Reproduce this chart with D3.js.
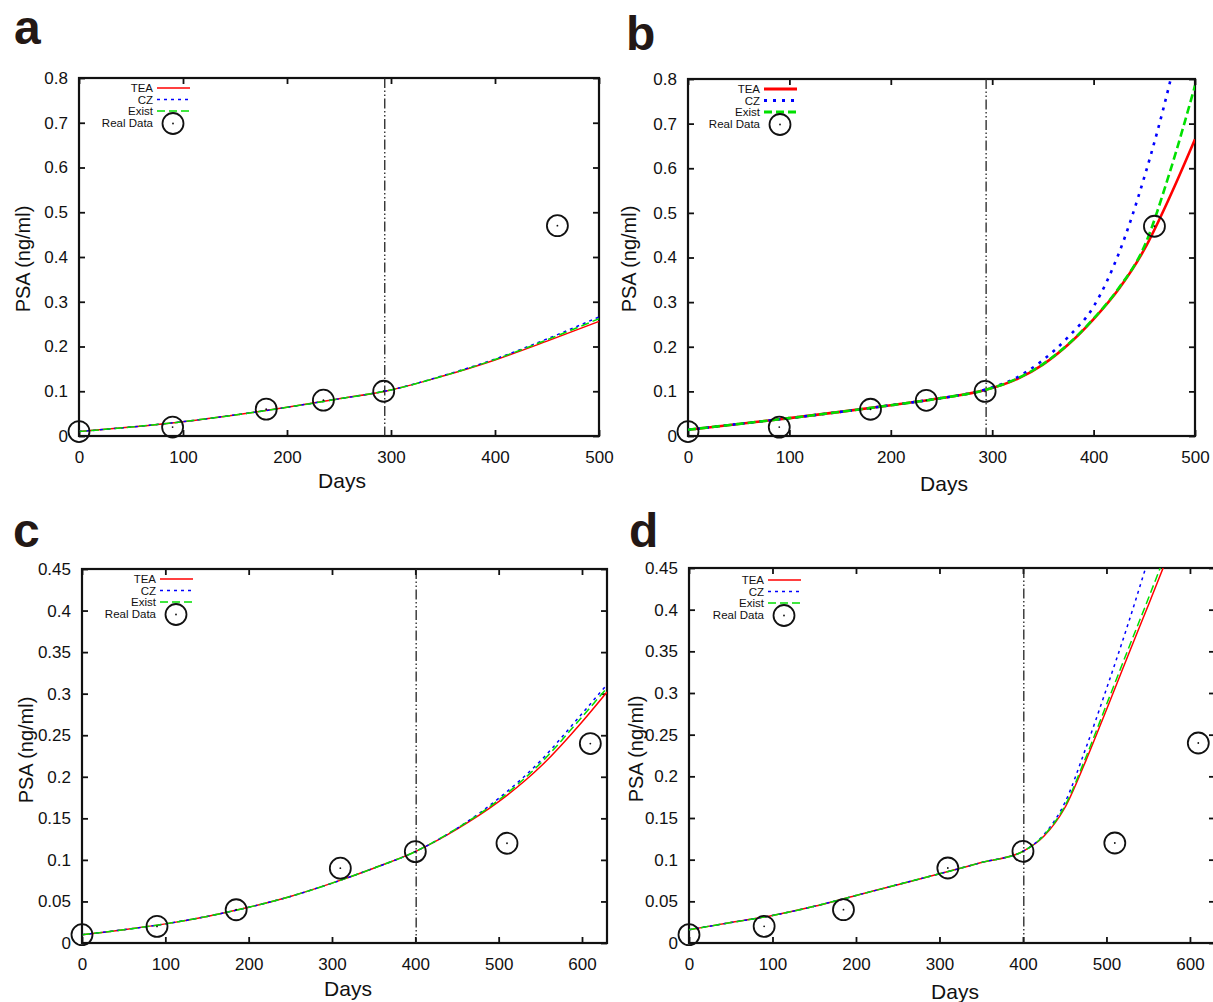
<!DOCTYPE html>
<html>
<head>
<meta charset="utf-8">
<script src="https://cdn.jsdelivr.net/npm/d3@7"></script>
<style>
  body { margin: 0; background: #fff; }
  text { font-family: 'Liberation Sans', Arial, Helvetica, sans-serif; fill: #111; }
</style>
</head>
<body>
<div id="chart"></div>
<script>
// ---- data ----
var ticksY_AB = [0, 0.1, 0.2, 0.3, 0.4, 0.5, 0.6, 0.7, 0.8],
    ticksY_CD = [0, 0.05, 0.1, 0.15, 0.2, 0.25, 0.3, 0.35, 0.4, 0.45],
    ticksX_AB = [0, 100, 200, 300, 400, 500],
    ticksX_CD = [0, 100, 200, 300, 400, 500, 600];

var obsDaysAB = [0, 90, 180, 235, 293, 460],
    obsPsaAB  = [0.01, 0.02, 0.06, 0.08, 0.10, 0.47],
    obsDaysCD = [0, 90, 185, 310, 400, 510, 610],
    obsPsaCD  = [0.01, 0.02, 0.04, 0.09, 0.11, 0.12, 0.24];

var cutAB = 294, cutCD = 401;

// panel a
var dayA   = [0, 50, 100, 150, 200, 250, 300, 350, 400, 450, 500],
    teaA   = [0.010, 0.020, 0.032, 0.047, 0.064, 0.083, 0.103, 0.134, 0.170, 0.212, 0.256],
    czA    = [0.010, 0.020, 0.032, 0.047, 0.064, 0.083, 0.103, 0.135, 0.172, 0.217, 0.266],
    existA = [0.010, 0.020, 0.032, 0.047, 0.064, 0.083, 0.103, 0.134, 0.171, 0.215, 0.262];

// panel b
var dayB   = [0, 50, 100, 150, 200, 250, 293, 325, 350, 375, 400, 425, 450, 475, 500],
    teaB   = [0.014, 0.027, 0.040, 0.054, 0.069, 0.085, 0.103, 0.128, 0.160, 0.205, 0.262, 0.330, 0.418, 0.535, 0.665],
    czB    = [0.014, 0.027, 0.040, 0.054, 0.069, 0.085, 0.104, 0.132, 0.170, 0.222, 0.290, 0.410, 0.580, 0.790, 1.050],
    existB = [0.014, 0.027, 0.040, 0.054, 0.069, 0.085, 0.103, 0.129, 0.161, 0.206, 0.263, 0.332, 0.425, 0.590, 0.785];

// panel c
var dayC   = [0, 50, 100, 150, 200, 250, 300, 350, 400, 450, 500, 550, 600, 630],
    teaC   = [0.010, 0.016, 0.023, 0.032, 0.043, 0.056, 0.072, 0.090, 0.110, 0.137, 0.170, 0.212, 0.266, 0.302],
    czC    = [0.010, 0.016, 0.023, 0.032, 0.043, 0.056, 0.072, 0.090, 0.110, 0.138, 0.174, 0.219, 0.276, 0.311],
    existC = [0.010, 0.016, 0.023, 0.032, 0.043, 0.056, 0.072, 0.090, 0.110, 0.138, 0.172, 0.216, 0.272, 0.307];

// panel d
var dayD   = [0, 50, 100, 150, 200, 250, 300, 350, 400, 425, 450, 475, 500, 525, 550, 575, 600],
    teaD   = [0.016, 0.0245, 0.033, 0.044, 0.057, 0.070, 0.083, 0.0965, 0.110, 0.128, 0.162, 0.218, 0.280, 0.343, 0.405, 0.468, 0.530],
    czD    = [0.016, 0.0245, 0.033, 0.044, 0.057, 0.070, 0.083, 0.0965, 0.110, 0.130, 0.168, 0.233, 0.305, 0.380, 0.460, 0.540, 0.620],
    existD = [0.016, 0.0245, 0.033, 0.044, 0.057, 0.070, 0.083, 0.0965, 0.110, 0.129, 0.164, 0.222, 0.286, 0.350, 0.413, 0.478, 0.545];

var seriesNames = ["TEA", "CZ", "Exist"],
    seriesColor = {TEA: "#ff0000", CZ: "#0000ff", Exist: "#00e000"};

// ---- layout ----
var panels = [
  {id: "a", l: 79, r: 599, t: 78, b: 436, xMax: 500, yMax: 0.8, xt: ticksX_AB, yt: ticksY_AB,
   day: dayA, tea: teaA, cz: czA, exist: existA, od: obsDaysAB, op: obsPsaAB, cut: cutAB,
   lw: 1.5, legX: 153, legY: 88, letX: 14, letY: 44, daysX: 342, daysY: 488, psaX: 30, psaY: 259},
  {id: "b", l: 688, r: 1195, t: 79, b: 436, xMax: 500, yMax: 0.8, xt: ticksX_AB, yt: ticksY_AB,
   day: dayB, tea: teaB, cz: czB, exist: existB, od: obsDaysAB, op: obsPsaAB, cut: cutAB,
   lw: 2.6, legX: 760, legY: 89, letX: 626, letY: 50, daysX: 944, daysY: 491, psaX: 636, psaY: 259},
  {id: "c", l: 82, r: 607, t: 569, b: 943, xMax: 630, yMax: 0.45, xt: ticksX_CD, yt: ticksY_CD,
   day: dayC, tea: teaC, cz: czC, exist: existC, od: obsDaysCD, op: obsPsaCD, cut: cutCD,
   lw: 1.5, legX: 156, legY: 579, letX: 13, letY: 547, daysX: 348, daysY: 996, psaX: 33, psaY: 750},
  {id: "d", l: 689, r: 1215, t: 568, b: 943, xMax: 630, yMax: 0.45, xt: ticksX_CD, yt: ticksY_CD,
   day: dayD, tea: teaD, cz: czD, exist: existD, od: obsDaysCD, op: obsPsaCD, cut: cutCD,
   lw: 1.5, legX: 764, legY: 580, letX: 629, letY: 547, daysX: 955, daysY: 999, psaX: 643, psaY: 749}
];

var svg = d3.select("#chart").append("svg")
    .attr("width", 1213)
    .attr("height", 1002);

var fmt = function(d) { return String(+d.toFixed(2)); };

panels.forEach(function(p) {
  var x = d3.scaleLinear().domain([0, p.xMax]).range([p.l, p.r]),
      y = d3.scaleLinear().domain([0, p.yMax]).range([p.b, p.t]);

  var g = svg.append("g").attr("class", "panel-" + p.id);

  // clip
  g.append("clipPath").attr("id", "clip-" + p.id)
    .append("rect").attr("x", p.l).attr("y", p.t)
    .attr("width", p.r - p.l).attr("height", p.b - p.t);

  // axes with inward ticks on all four sides
  var axL = g.append("g").attr("transform", "translate(" + p.l + ",0)")
      .call(d3.axisLeft(y).tickValues(p.yt).tickSize(-6).tickPadding(11).tickFormat(fmt));
  var axB = g.append("g").attr("transform", "translate(0," + p.b + ")")
      .call(d3.axisBottom(x).tickValues(p.xt).tickSize(-6).tickPadding(15));
  var axR = g.append("g").attr("transform", "translate(" + p.r + ",0)")
      .call(d3.axisRight(y).tickValues(p.yt).tickSize(-6).tickFormat(""));
  var axT = g.append("g").attr("transform", "translate(0," + p.t + ")")
      .call(d3.axisTop(x).tickValues(p.xt).tickSize(-6).tickFormat(""));
  [axL, axB, axR, axT].forEach(function(a) {
    a.select(".domain").remove();
    a.selectAll("line").attr("stroke", "#111").attr("stroke-width", 1.8);
    a.selectAll("text").style("font-size", "17px").style("font-family", null).attr("fill", "#111");
  });

  g.append("rect")
    .attr("x", p.l).attr("y", p.t)
    .attr("width", p.r - p.l).attr("height", p.b - p.t)
    .attr("fill", "none").attr("stroke", "#111").attr("stroke-width", 2.2);

  // cut line
  g.append("line")
    .attr("x1", x(p.cut)).attr("x2", x(p.cut))
    .attr("y1", p.t).attr("y2", p.b)
    .attr("stroke", "#222").attr("stroke-width", 1.3)
    .attr("stroke-dasharray", "10,2.5,1.5,2.5,1.5,2.5");

  // model curves
  var line = d3.line()
      .x(function(d) { return x(d[0]); })
      .y(function(d) { return y(d[1]); })
      .curve(d3.curveMonotoneX);
  var curves = g.append("g").attr("clip-path", "url(#clip-" + p.id + ")");
  var dash = {TEA: null, CZ: p.lw > 2 ? "3,6" : "3,4", Exist: "8,4"};
  var vals = {TEA: p.tea, CZ: p.cz, Exist: p.exist};
  seriesNames.forEach(function(s) {
    curves.append("path")
      .datum(p.day.map(function(d, i) { return [d, vals[s][i]]; }))
      .attr("d", line)
      .attr("fill", "none")
      .attr("stroke", seriesColor[s])
      .attr("stroke-width", p.lw)
      .attr("stroke-dasharray", dash[s]);
  });

  // observed data
  var obs = g.append("g").selectAll("g")
      .data(p.od.map(function(d, i) { return [d, p.op[i]]; }))
      .enter().append("g")
      .attr("transform", function(d) { return "translate(" + x(d[0]) + "," + y(d[1]) + ")"; });
  obs.append("circle").attr("r", 10.5).attr("fill", "none").attr("stroke", "#111").attr("stroke-width", 1.8);
  obs.append("circle").attr("r", 0.9).attr("fill", "#111");

  // legend
  var leg = g.append("g").attr("transform", "translate(" + p.legX + "," + p.legY + ")");
  var labels = ["TEA", "CZ", "Exist", "Real Data"];
  labels.forEach(function(lab, i) {
    var ly = i * 11.5;
    leg.append("text")
      .attr("x", 0).attr("y", ly + 4)
      .attr("text-anchor", "end")
      .style("font-size", "11.5px")
      .text(lab);
    if (i < 3) {
      leg.append("line")
        .attr("x1", 4).attr("x2", 37).attr("y1", ly).attr("y2", ly)
        .attr("stroke", seriesColor[lab])
        .attr("stroke-width", p.lw > 2 ? 3 : 1.6)
        .attr("stroke-dasharray", dash[lab]);
    } else {
      leg.append("circle").attr("cx", 20).attr("cy", ly + 1).attr("r", 10.5)
        .attr("fill", "none").attr("stroke", "#111").attr("stroke-width", 1.8);
      leg.append("circle").attr("cx", 20).attr("cy", ly + 1).attr("r", 0.9).attr("fill", "#111");
    }
  });

  // titles
  g.append("text")
    .attr("x", p.daysX).attr("y", p.daysY)
    .attr("text-anchor", "middle")
    .style("font-size", "21px")
    .text("Days");
  g.append("text")
    .attr("transform", "translate(" + p.psaX + "," + p.psaY + ") rotate(-90)")
    .attr("text-anchor", "middle")
    .style("font-size", "20px")
    .text("PSA (ng/ml)");
  g.append("text")
    .attr("x", p.letX).attr("y", p.letY)
    .style("font-size", "48px")
    .style("font-weight", "bold")
    .style("fill", "#231815")
    .text(p.id);
});
</script>
</body>
</html>
